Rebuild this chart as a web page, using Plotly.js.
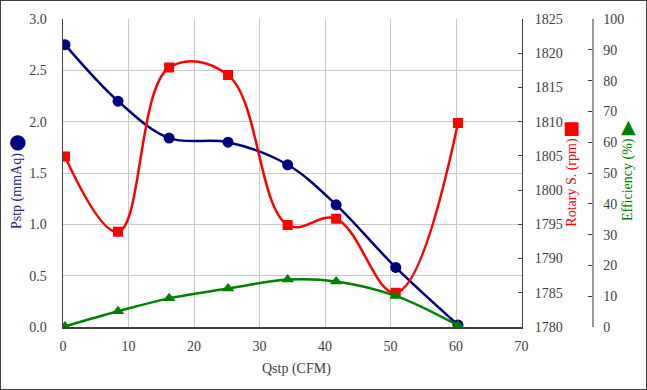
<!DOCTYPE html>
<html>
<head>
<meta charset="utf-8">
<script src="https://cdn.plot.ly/plotly-3.0.1.min.js"></script>
<style>
  html, body { margin: 0; padding: 0; background: #fff; }
  #wrap { position: relative; width: 647px; height: 390px; }
  #chart { width: 647px; height: 390px; }
  #frame { position: absolute; left: 0; top: 0; width: 647px; height: 390px; box-sizing: border-box; border: 1px solid #404040; pointer-events: none; }
</style>
</head>
<body>
<div id="wrap"><div id="chart"></div><div id="frame"></div></div>
<script>
// Data
const qstp = [0.3, 8.4, 16.2, 25.2, 34.3, 41.7, 50.8, 60.3];      // Qstp (CFM)
const pstp = [2.75, 2.20, 1.84, 1.80, 1.58, 1.19, 0.58, 0.02];     // Pstp (mmAq)
const rotary = [1804.9, 1793.9, 1817.9, 1816.8, 1794.9, 1795.8, 1785.0, 1809.8]; // rpm
const efficiency = [0.2, 5.1, 9.3, 12.5, 15.4, 14.8, 10.1, 0.5];  // %

const xTicks = [0, 10, 20, 30, 40, 50, 60, 70];
const serif = "Liberation Serif";
const tickFont = {family: serif, size: 14, color: '#404040'};

const traces = [
  {x: qstp, y: pstp, type: 'scatter', mode: 'lines+markers', yaxis: 'y',
   line: {color: '#000080', width: 2.5, shape: 'spline', smoothing: 1},
   marker: {symbol: 'circle', size: 11, color: '#000080'}},
  {x: qstp, y: rotary, type: 'scatter', mode: 'lines+markers', yaxis: 'y2',
   line: {color: '#ff0000', width: 2.5, shape: 'spline', smoothing: 1.1},
   marker: {symbol: 'square', size: 10, color: '#ff0000'}},
  {x: qstp, y: efficiency, type: 'scatter', mode: 'lines+markers', yaxis: 'y3',
   line: {color: '#008000', width: 2.5, shape: 'spline', smoothing: 1},
   marker: {symbol: 'triangle-up', size: 11, color: '#008000'}}
];

const L = 63, R = 55, T = 19, B = 63, W = 647, H = 390;
const pw = W - L - R, ph = H - T - B;
const px = v => (v - L) / pw;
const py = v => (H - B - v) / ph;

const layout = {
  width: W, height: H,
  margin: {l: L, r: R, t: T, b: B, pad: 0},
  paper_bgcolor: '#ffffff', plot_bgcolor: '#ffffff',
  showlegend: false,
  font: {family: serif, color: '#404040', size: 14},
  xaxis: {
    domain: [0, (521.5 - L) / pw], range: [0, 70],
    tickvals: xTicks, ticktext: xTicks.map(String),
    showgrid: true, gridcolor: '#c8c8c8', gridwidth: 1,
    showline: true, linecolor: '#404040', linewidth: 1.5,
    ticks: '', zeroline: false, tickfont: tickFont, ticklabelstandoff: 6
  },
  yaxis: {
    range: [0, 3], dtick: 0.5, tick0: 0, tickformat: '.1f',
    showgrid: true, gridcolor: '#c8c8c8', gridwidth: 1,
    showline: true, linecolor: '#404040', linewidth: 1.5,
    ticks: '', zeroline: false, tickfont: tickFont, ticklabelstandoff: 12
  },
  yaxis2: {
    overlaying: 'y', side: 'right', anchor: 'x',
    range: [1780, 1825], dtick: 5, tick0: 1780,
    showgrid: false, zeroline: false,
    showline: true, linecolor: '#404040', linewidth: 1.5,
    ticks: 'inside', ticklen: 4, tickcolor: '#404040', tickwidth: 1,
    tickfont: tickFont, ticklabelstandoff: 9
  },
  yaxis3: {
    overlaying: 'y', side: 'right', anchor: 'free', position: 1,
    range: [0, 100], dtick: 10, tick0: 0,
    showgrid: false, zeroline: false,
    showline: true, linecolor: '#999999', linewidth: 1.5,
    ticks: 'inside', ticklen: 4, tickcolor: '#404040', tickwidth: 1,
    tickfont: tickFont, ticklabelstandoff: 7
  },
  annotations: [
    {text: 'Qstp (CFM)', xref: 'paper', yref: 'paper', x: px(296.7), y: py(369),
     xanchor: 'center', yanchor: 'middle', showarrow: false,
     font: {family: serif, size: 14, color: '#404040'}},
    {text: 'Pstp (mmAq)', xref: 'paper', yref: 'paper', x: px(17), y: py(191),
     xanchor: 'center', yanchor: 'middle', showarrow: false, textangle: -90,
     font: {family: serif, size: 14, color: '#202090'}},
    {text: '●', xref: 'paper', yref: 'paper', x: px(17), y: py(141),
     xanchor: 'center', yanchor: 'middle', showarrow: false,
     font: {family: 'DejaVu Sans', size: 20, color: '#000080'}},
    {text: 'Rotary S. (rpm)', xref: 'paper', yref: 'paper', x: px(571.7), y: py(182),
     xanchor: 'center', yanchor: 'middle', showarrow: false, textangle: -90,
     font: {family: serif, size: 14, color: '#ff0000'}},
    {text: '■', xref: 'paper', yref: 'paper', x: px(571.7), y: py(127),
     xanchor: 'center', yanchor: 'middle', showarrow: false,
     font: {family: 'DejaVu Sans', size: 18, color: '#ff0000'}},
    {text: 'Efficiency (%)', xref: 'paper', yref: 'paper', x: px(628), y: py(180),
     xanchor: 'center', yanchor: 'middle', showarrow: false, textangle: -90,
     font: {family: serif, size: 14, color: '#008000'}},
    {text: '▲', xref: 'paper', yref: 'paper', x: px(628), y: py(126),
     xanchor: 'center', yanchor: 'middle', showarrow: false,
     font: {family: 'DejaVu Sans', size: 19, color: '#008000'}}
  ]
};

Plotly.newPlot('chart', traces, layout, {displayModeBar: false, staticPlot: true});
</script>
</body>
</html>
